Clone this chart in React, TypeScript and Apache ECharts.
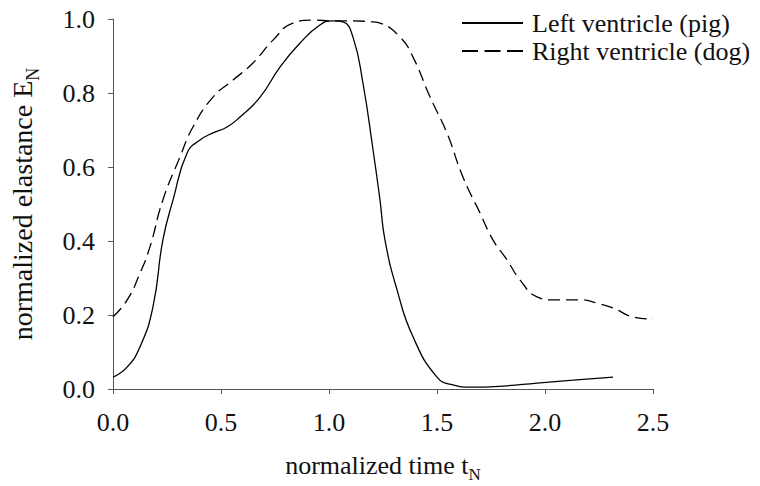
import React, { useEffect, useRef } from "react";
import * as echarts from "echarts";

const lvTime = [0, 0.065, 0.125, 0.185, 0.231, 0.278, 0.343, 0.403, 0.463, 0.528, 0.588, 0.681, 0.773, 0.866, 0.958, 1.019, 1.065, 1.111, 1.157, 1.204, 1.236, 1.259, 1.315, 1.389, 1.5, 1.574, 1.653, 1.806, 1.963, 2.13, 2.315];
const lvElastance = [0.032, 0.059, 0.114, 0.222, 0.403, 0.511, 0.638, 0.673, 0.692, 0.708, 0.735, 0.789, 0.87, 0.935, 0.984, 0.995, 0.992, 0.951, 0.827, 0.646, 0.511, 0.403, 0.268, 0.141, 0.032, 0.011, 0.005, 0.008, 0.016, 0.024, 0.032];

const rvTime = [0, 0.065, 0.125, 0.171, 0.231, 0.31, 0.37, 0.463, 0.556, 0.648, 0.741, 0.833, 0.926, 1.019, 1.111, 1.204, 1.236, 1.329, 1.389, 1.468, 1.546, 1.62, 1.699, 1.759, 1.824, 1.884, 1.963, 2.037, 2.162, 2.241, 2.315, 2.407, 2.5];
const rvElastance = [0.195, 0.24, 0.313, 0.384, 0.511, 0.627, 0.708, 0.789, 0.835, 0.881, 0.943, 0.989, 0.997, 0.995, 0.995, 0.992, 0.989, 0.951, 0.897, 0.789, 0.692, 0.573, 0.476, 0.403, 0.349, 0.295, 0.249, 0.241, 0.241, 0.232, 0.219, 0.195, 0.189];

const seriesNames = ["Left ventricle (pig)", "Right ventricle (dog)"];
const xTicks = { min: 0, max: 2.5, interval: 0.5 };
const yTicks = { min: 0, max: 1, interval: 0.2 };

const FONT = "Liberation Serif";

export default function App() {
  const ref = useRef<HTMLDivElement>(null);
  useEffect(() => {
    if (!ref.current) return;
    const chart = echarts.init(ref.current, null, { renderer: "svg" });
    const pair = (xs: number[], ys: number[]) => xs.map((x, i) => [x, ys[i]]);
    const axisCommon = {
      type: "value" as const,
      splitLine: { show: false },
      axisLine: { show: true, lineStyle: { color: "#555", width: 1 } },
      axisTick: { show: true, inside: false, length: 5, lineStyle: { color: "#555" } },
      nameLocation: "middle" as const,
    };
    const subRich = (size: number) => ({
      sub: { fontFamily: FONT, fontSize: size, lineHeight: size, verticalAlign: "bottom", color: "#111" },
    });
    chart.setOption({
      animation: false,
      textStyle: { fontFamily: FONT },
      grid: { left: 113, right: 107, top: 19, bottom: 97, containLabel: false, outerBoundsMode: "none" },
      legend: {
        orient: "vertical",
        left: 456,
        top: 5,
        itemWidth: 61,
        itemHeight: 2,
        itemGap: 2,
        data: [
          { name: seriesNames[0] },
          { name: seriesNames[1], lineStyle: { type: [16, 6.5] } },
        ],
        textStyle: { fontFamily: FONT, fontSize: 26, color: "#111", lineHeight: 26, padding: [0, 0, 0, 4] },
      },
      xAxis: {
        ...axisCommon,
        min: xTicks.min,
        max: xTicks.max,
        interval: xTicks.interval,
        axisLabel: {
          margin: 20,
          fontSize: 26,
          fontFamily: FONT,
          color: "#111",
          formatter: (v: number) => v.toFixed(1),
        },
        name: "normalized time t{sub|N}",
        nameGap: 59,
        nameTextStyle: { fontFamily: FONT, fontSize: 26, color: "#111", lineHeight: 35, rich: subRich(17) },
      },
      yAxis: {
        ...axisCommon,
        min: yTicks.min,
        max: yTicks.max,
        interval: yTicks.interval,
        axisLabel: {
          margin: 18,
          fontSize: 26,
          fontFamily: FONT,
          color: "#111",
          formatter: (v: number) => v.toFixed(1),
        },
        name: "normalized elastance E{sub|N}",
        nameGap: 71,
        nameTextStyle: { fontFamily: FONT, fontSize: 28, color: "#111", lineHeight: 40, rich: subRich(18) },
      },
      series: [
        {
          name: seriesNames[0],
          type: "line",
          data: pair(lvTime, lvElastance),
          smooth: 0.5,
          symbol: "none",
          lineStyle: { color: "#000", width: 1.3, type: "solid" },
          itemStyle: { color: "#000" },
        },
        {
          name: seriesNames[1],
          type: "line",
          data: pair(rvTime, rvElastance),
          smooth: 0.5,
          symbol: "none",
          lineStyle: { color: "#000", width: 1.3, type: [12, 6] },
          itemStyle: { color: "#000" },
        },
      ],
    });
    return () => chart.dispose();
  }, []);
  return (
    <div
      ref={ref}
      style={{ position: "fixed", left: 0, top: 0, width: 760, height: 486, background: "#fff" }}
    />
  );
}
